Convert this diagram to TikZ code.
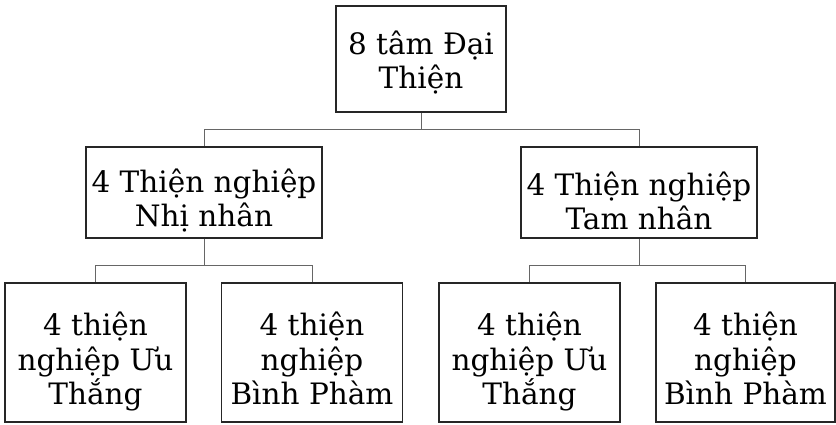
\documentclass[tikz,border=0pt]{standalone}
\usepackage{fontspec}
\setmainfont{DejaVu Serif}
\newcommand\myup[1]{\rule{0pt}{#1}}
\newcommand\mydn[1]{\rule[-#1]{0pt}{0pt}}
\begin{document}
\begin{tikzpicture}[x=1pt,y=-1pt,
  box/.style={draw=black!85, line width=1.3pt, fill=white, align=center, inner sep=0pt,
    font=\fontsize{29.5}{34.5}\selectfont},
  link/.style={draw=black!60, line width=1pt}]
\useasboundingbox[fill=white] (0,0) rectangle (836,425);
\node[box, minimum width=170pt, minimum height=106pt] (top) at (421,59) {\myup{31pt}8 tâm Đại\\Thiện};
\node[box, minimum width=236pt, minimum height=91pt] (ml) at (204,192.5) {\myup{40pt}4 Thiện nghiệp\\Nhị nhân};
\node[box, minimum width=236pt, minimum height=91pt] (mr) at (639,192.5) {\myup{40pt}4 Thiện nghiệp\\Tam nhân};
\node[box, minimum width=181pt, minimum height=139pt] (b1) at (95.5,352.5) {\myup{44pt}4 thiện\\nghiệp Ưu\\Thắng\mydn{9pt}};
\node[box, minimum width=181pt, minimum height=139pt] (b2) at (312,352.5) {\myup{44pt}4 thiện\\nghiệp\\Bình Phàm\mydn{9pt}};
\node[box, minimum width=181pt, minimum height=139pt] (b3) at (529.5,352.5) {\myup{44pt}4 thiện\\nghiệp Ưu\\Thắng\mydn{9pt}};
\node[box, minimum width=179pt, minimum height=139pt] (b4) at (745.5,352.5) {\myup{44pt}4 thiện\\nghiệp\\Bình Phàm\mydn{9pt}};
\coordinate (j1) at (421,130);
\coordinate (j2) at (204,265);
\coordinate (j3) at (639,265);
\draw[link] (top.south) -- (j1);
\draw[link] (j1) -| (ml.north);
\draw[link] (j1) -| (mr.north);
\draw[link] (ml.south) -- (j2);
\draw[link] (j2) -| (b1.north);
\draw[link] (j2) -| (b2.north);
\draw[link] (mr.south) -- (j3);
\draw[link] (j3) -| (b3.north);
\draw[link] (j3) -| (b4.north);
\end{tikzpicture}
\end{document}
